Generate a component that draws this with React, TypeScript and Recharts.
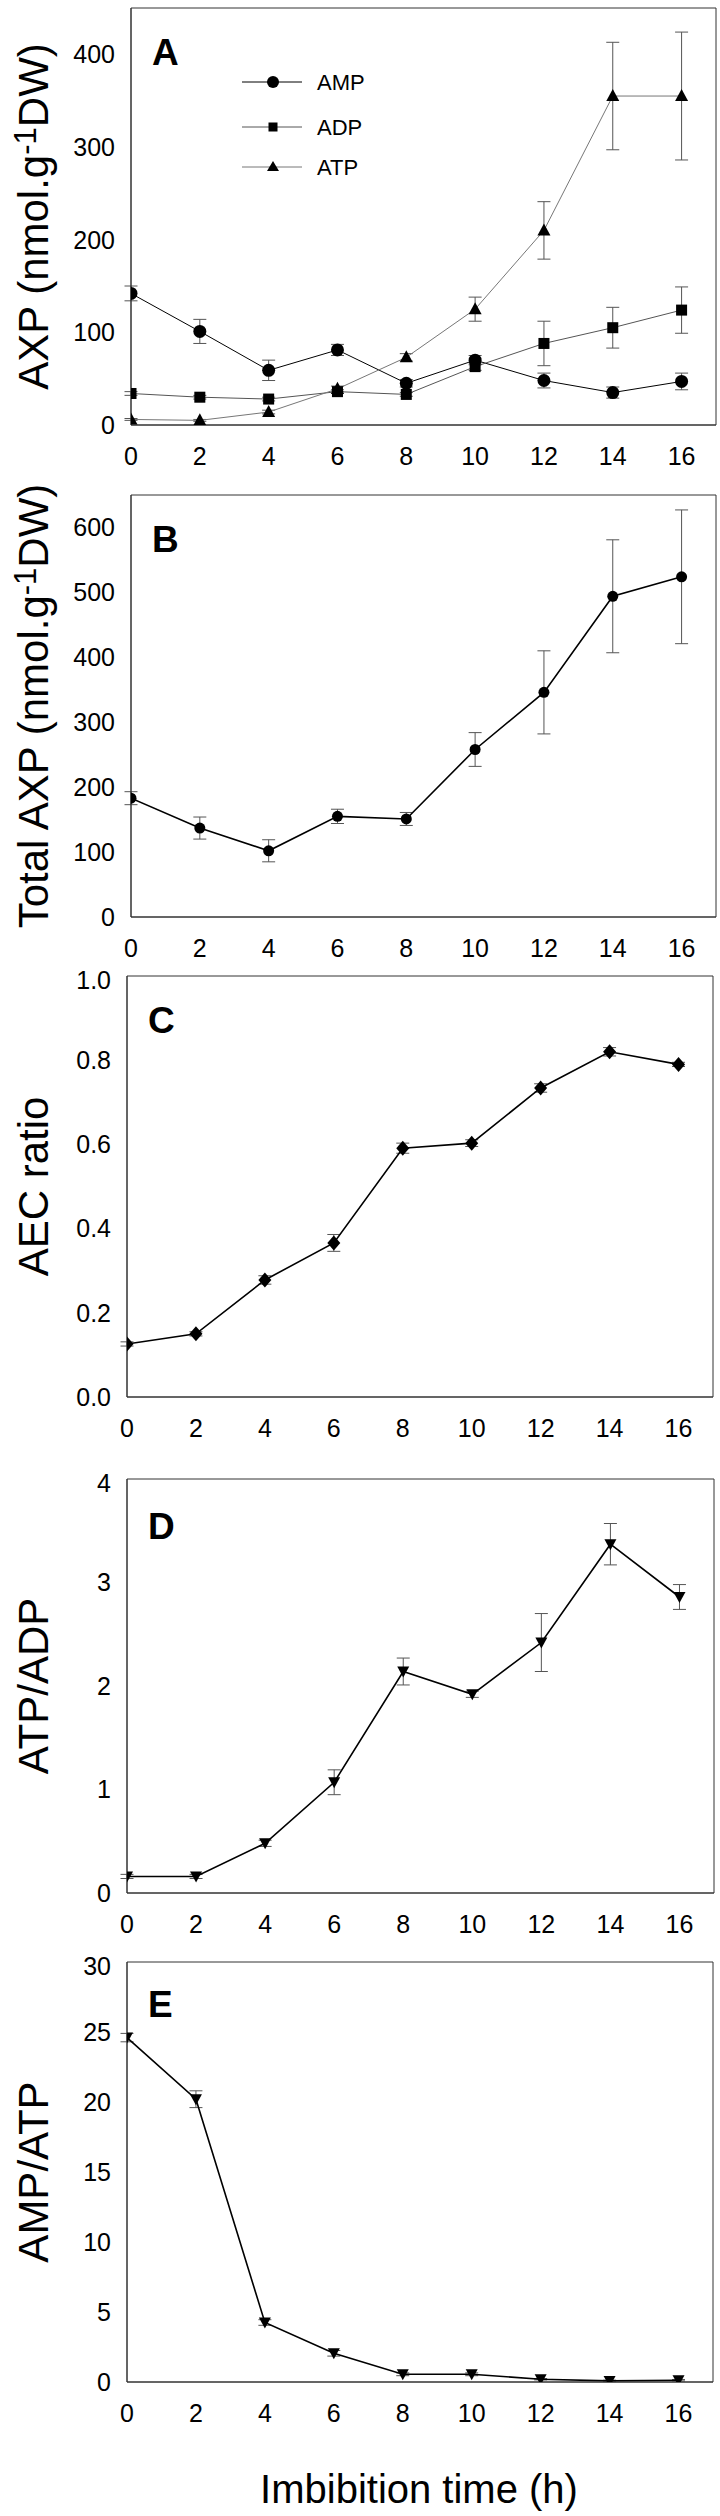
import React from 'react';
import { LineChart, Line, XAxis, YAxis, ErrorBar, Customized } from 'recharts';

const times = [0, 2, 4, 6, 8, 10, 12, 14, 16];

// panel A
const amp = [142, 101, 59, 81, 45, 70, 48, 35, 47];
const ampErr = [8, 13, 11, 6, 4, 5, 8, 6, 9];
const adp = [34, 30, 28, 36, 33, 63, 88, 105, 124];
const adpErr = [2, 2, 2, 2, 2, 4, 24, 22, 25];
const atp = [6, 5, 14, 39, 73, 125, 210, 355, 355];
const atpErr = [1, 1, 2, 3, 4, 13, 31, 58, 69];

// panel B
const totalAxp = [183, 137, 102, 155, 151, 258, 346, 494, 524];
const totalAxpErr = [10, 17, 17, 11, 10, 26, 64, 87, 103];

// panel C
const aec = [0.126, 0.15, 0.278, 0.366, 0.591, 0.603, 0.734, 0.82, 0.79];
const aecErr = [0.005, 0.005, 0.01, 0.02, 0.012, 0.008, 0.01, 0.01, 0.005];

// panel D
const atpAdp = [0.16, 0.16, 0.48, 1.07, 2.14, 1.92, 2.42, 3.37, 2.86];
const atpAdpErr = [0.02, 0.02, 0.03, 0.12, 0.13, 0.03, 0.28, 0.2, 0.12];

// panel E
const ampAtp = [24.6, 20.2, 4.25, 2.05, 0.55, 0.55, 0.2, 0.08, 0.13];
const ampAtpErr = [0.3, 0.6, 0.2, 0.2, 0.1, 0.1, 0.05, 0.05, 0.05];

const xTicks = [0, 2, 4, 6, 8, 10, 12, 14, 16];
const xMinorTicks = [0, 0.5, 1, 1.5, 2, 2.5, 3, 3.5, 4, 4.5, 5, 5.5, 6, 6.5, 7, 7.5, 8, 8.5, 9, 9.5,
  10, 10.5, 11, 11.5, 12, 12.5, 13, 13.5, 14, 14.5, 15, 15.5, 16, 16.5, 17];

const aTicks = [0, 100, 200, 300, 400];
const aMinor = [0, 50, 100, 150, 200, 250, 300, 350, 400, 450];
const bTicks = [0, 100, 200, 300, 400, 500, 600];
const bMinor = [0, 50, 100, 150, 200, 250, 300, 350, 400, 450, 500, 550, 600, 650];
const cTicks = [0, 0.2, 0.4, 0.6, 0.8, 1.0];
const dTicks = [0, 1, 2, 3, 4];
const dMinor = [0, 0.5, 1, 1.5, 2, 2.5, 3, 3.5, 4];
const eTicks = [0, 5, 10, 15, 20, 25, 30];
const eMinor = [0, 2.5, 5, 7.5, 10, 12.5, 15, 17.5, 20, 22.5, 25, 27.5, 30];

const FONT = '"Liberation Sans", Arial, Helvetica, sans-serif';
const AXIS = '#333';
const ERR = '#555';
const PAD = 10;
const TITLE_SIZE = 42;

const table = times.map((t, i) => ({
  t,
  amp: amp[i], ampErr: ampErr[i],
  adp: adp[i], adpErr: adpErr[i],
  atp: atp[i], atpErr: atpErr[i],
  total: totalAxp[i], totalErr: totalAxpErr[i],
  aec: aec[i], aecErr: aecErr[i],
  atpAdp: atpAdp[i], atpAdpErr: atpAdpErr[i],
  ampAtp: ampAtp[i], ampAtpErr: ampAtpErr[i],
}));

// marker shapes
const circleDot = (r: number) => (p: any) => (
  <circle key={p.index} cx={p.cx} cy={p.cy} r={r} fill="#000" />
);
const squareDot = (p: any) => (
  <rect key={p.index} x={p.cx - 5.5} y={p.cy - 5.5} width={11} height={11} fill="#000" />
);
const triUp = (p: any) => (
  <path key={p.index} d={`M${p.cx},${p.cy - 7} L${p.cx + 6.5},${p.cy + 5} L${p.cx - 6.5},${p.cy + 5} Z`} fill="#000" />
);
const triDown = (p: any) => (
  <path key={p.index} d={`M${p.cx - 6},${p.cy - 5} L${p.cx + 6},${p.cy - 5} L${p.cx},${p.cy + 6} Z`} fill="#000" />
);
const diamond = (p: any) => (
  <path key={p.index} d={`M${p.cx},${p.cy - 7.5} L${p.cx + 6.5},${p.cy} L${p.cx},${p.cy + 7.5} L${p.cx - 6.5},${p.cy} Z`} fill="#000" />
);

interface PanelProps {
  top: number;
  left: number;
  right: number;
  bottom: number;
  domain: [number, number];
  yTicks: number[];
  yMinor: number[];
  xMinor?: number[];
  bottomSpace?: number;
  letter: string;
  letterY?: number;
  yTitle: React.ReactNode;
  fmt?: (v: number) => string;
  extra?: (plotH: number) => React.ReactNode;
  children: React.ReactNode;
}

const tickStyle = { fontSize: 25, fill: '#000', fontFamily: FONT };

const Panel: React.FC<PanelProps> = ({
  top, left, right, bottom, domain, yTicks, yMinor, xMinor, bottomSpace = 60,
  letter, letterY = 57, yTitle, fmt, extra, children,
}) => {
  const plotH = bottom - top;
  const height = plotH + PAD + bottomSpace;
  const inner = xMinor ?? xTicks;
  const midY = PAD + plotH / 2;
  return (
    <div style={{ position: 'absolute', top: top - PAD, left: 0 }}>
      <LineChart width={720} height={height} data={table}
        margin={{ top: PAD, right: 720 - right, bottom: 0, left: 0 }}>
        <XAxis xAxisId="x" dataKey="t" type="number" domain={[0, 17]} allowDataOverflow
          ticks={xTicks} tickLine={false} tickSize={0} tickMargin={22} height={bottomSpace}
          axisLine={{ stroke: AXIS }} tick={tickStyle} />
        <XAxis xAxisId="xb" type="number" domain={[0, 17]} allowDataOverflow ticks={inner}
          mirror tick={false} tickSize={5} axisLine={{ stroke: AXIS }} tickLine={{ stroke: AXIS }} />
        <XAxis xAxisId="xt" orientation="top" type="number" domain={[0, 17]} allowDataOverflow
          ticks={inner} mirror tick={false} tickSize={5} axisLine={{ stroke: AXIS }} tickLine={{ stroke: AXIS }} />
        <YAxis yAxisId="y" type="number" domain={domain} allowDataOverflow ticks={yTicks} width={left}
          tickLine={false} tickSize={0} tickMargin={16} axisLine={{ stroke: AXIS }} tick={tickStyle}
          tickFormatter={fmt} />
        <YAxis yAxisId="yl" type="number" domain={domain} allowDataOverflow ticks={yMinor}
          mirror tick={false} tickSize={5} axisLine={{ stroke: AXIS }} tickLine={{ stroke: AXIS }} />
        <YAxis yAxisId="yr" orientation="right" type="number" domain={domain} allowDataOverflow ticks={yMinor}
          mirror tick={false} tickSize={5} axisLine={{ stroke: AXIS }} tickLine={{ stroke: AXIS }} />
        {children}
        <Customized component={() => (
          <g fontFamily={FONT}>
            <text x={left + 21} y={PAD + letterY} fontSize={37} fontWeight="bold" fill="#000">{letter}</text>
            <text x={48} y={midY} fontSize={TITLE_SIZE} fill="#000" textAnchor="middle"
              transform={`rotate(-90, 48, ${midY})`}>{yTitle}</text>
            {extra ? extra(plotH) : null}
          </g>
        )} />
      </LineChart>
    </div>
  );
};

const series = (key: string, err: string, color: string, width: number, dot: any) => (
  <Line xAxisId="x" yAxisId="y" dataKey={key} type="linear" stroke={color} strokeWidth={width}
    dot={dot} activeDot={false} isAnimationActive={false}>
    <ErrorBar dataKey={err} direction="y" width={6.5} stroke={ERR} strokeWidth={1} isAnimationActive={false} />
  </Line>
);

const legendRows = [
  { name: 'AMP', color: '#000', y: 84 },
  { name: 'ADP', color: '#555', y: 129 },
  { name: 'ATP', color: '#777', y: 169 },
];

const legend = () => (
  <g>
    {legendRows.map((r, i) => (
      <g key={r.name}>
        <line x1={242} x2={302} y1={r.y} y2={r.y} stroke={r.color} strokeWidth={1} />
        {i === 0 && <circle cx={273} cy={r.y} r={6} fill="#000" />}
        {i === 1 && <rect x={268.5} y={r.y - 4.5} width={9} height={9} fill="#000" />}
        {i === 2 && <path d={`M273,${r.y - 6} L279,${r.y + 4} L267,${r.y + 4} Z`} fill="#000" />}
        <text x={317} y={r.y} dy="0.36em" fontSize={22} fill="#000">{r.name}</text>
      </g>
    ))}
  </g>
);

const unitsTitle = (prefix: string) => (
  <>{prefix} (nmol.g<tspan dy={-12} fontSize={31}>-1</tspan><tspan dy={12}>DW)</tspan></>
);

export default function App() {
  return (
    <div style={{ position: 'absolute', top: 0, left: 0, width: 720, height: 2516, background: '#fff' }}>
      <style>{'.recharts-surface { overflow: visible; }'}</style>
      <Panel top={8} left={131} right={716} bottom={425} domain={[0, 450]} yTicks={aTicks} yMinor={aMinor}
        letter="A" extra={legend} yTitle={unitsTitle('AXP')}>
        {series('amp', 'ampErr', '#000', 1, circleDot(6.5))}
        {series('adp', 'adpErr', '#555', 1, squareDot)}
        {series('atp', 'atpErr', '#777', 1, triUp)}
      </Panel>
      <Panel top={495} left={131} right={716} bottom={917} domain={[0, 650]} yTicks={bTicks} yMinor={bMinor}
        letter="B" yTitle={unitsTitle('Total AXP')}>
        {series('total', 'totalErr', '#000', 1.6, circleDot(5.5))}
      </Panel>
      <Panel top={976} left={127} right={713} bottom={1397} domain={[0, 1]} yTicks={cTicks} yMinor={cTicks}
        letter="C" yTitle="AEC ratio" fmt={(v) => v.toFixed(1)}>
        {series('aec', 'aecErr', '#000', 1.6, diamond)}
      </Panel>
      <Panel top={1479} left={127} right={714} bottom={1893} domain={[0, 4]} yTicks={dTicks} yMinor={dMinor}
        letter="D" letterY={60} yTitle="ATP/ADP">
        {series('atpAdp', 'atpAdpErr', '#000', 1.6, triDown)}
      </Panel>
      <Panel top={1962} left={127} right={713} bottom={2382} domain={[0, 30]} yTicks={eTicks} yMinor={eMinor}
        xMinor={xMinorTicks} bottomSpace={134} letter="E" letterY={55} yTitle="AMP/ATP"
        extra={(plotH) => (
          <text x={419} y={PAD + plotH + 121} fontSize={40} fill="#000" textAnchor="middle">Imbibition time (h)</text>
        )}>
        {series('ampAtp', 'ampAtpErr', '#000', 1.6, triDown)}
      </Panel>
    </div>
  );
}
